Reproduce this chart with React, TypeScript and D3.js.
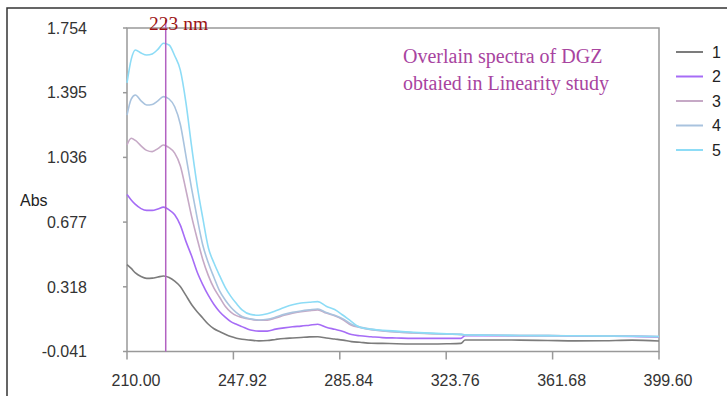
import React, { useEffect, useRef } from "react";
import * as d3 from "d3";

const wavelengths = [
  210, 211.5, 213, 215, 217, 219, 221, 223, 225, 227, 229, 231, 233, 235, 237, 239, 241, 243, 245, 247,
  249, 251, 254, 257, 260, 263, 266, 269, 272, 275, 278, 281, 284, 287, 290, 293, 297, 301, 306, 312,
  318, 324, 329, 330.5, 336, 342, 350, 360, 370, 380, 390, 399.6,
];

const series1 = [
  0.441, 0.42, 0.395, 0.375, 0.365, 0.366, 0.372, 0.378, 0.37, 0.35, 0.32, 0.27, 0.22, 0.18, 0.145, 0.11, 0.085, 0.07, 0.055, 0.042,
  0.033, 0.027, 0.022, 0.018, 0.02, 0.026, 0.031, 0.034, 0.037, 0.04, 0.041, 0.034, 0.028, 0.022, 0.014, 0.01, 0.005, 0.004, 0.002, 0.001,
  0.001, 0.002, 0.004, 0.023, 0.023, 0.023, 0.022, 0.02, 0.018, 0.019, 0.022, 0.017,
];
const series2 = [
  0.83, 0.8, 0.775, 0.752, 0.742, 0.742, 0.75, 0.76, 0.745, 0.718, 0.66, 0.57, 0.49, 0.4, 0.33, 0.27, 0.22, 0.18, 0.15, 0.125,
  0.11, 0.097, 0.078, 0.072, 0.072, 0.083, 0.09, 0.096, 0.1, 0.105, 0.11, 0.094, 0.082, 0.07, 0.053, 0.046, 0.041, 0.036, 0.034, 0.032,
  0.032, 0.032, 0.032, 0.047, 0.047, 0.047, 0.046, 0.046, 0.045, 0.044, 0.043, 0.04,
];
const series3 = [
  1.105, 1.142, 1.13, 1.1, 1.075, 1.068, 1.085, 1.105, 1.09, 1.06, 0.99, 0.855, 0.71, 0.585, 0.47, 0.38, 0.31, 0.26, 0.21, 0.178,
  0.158, 0.148, 0.138, 0.132, 0.133, 0.145, 0.16, 0.172, 0.18, 0.186, 0.19, 0.172, 0.157, 0.135, 0.105, 0.092, 0.08, 0.073, 0.067, 0.062,
  0.058, 0.055, 0.053, 0.05, 0.049, 0.048, 0.047, 0.047, 0.046, 0.045, 0.044, 0.041,
];
const series4 = [
  1.271, 1.36, 1.382, 1.35, 1.327, 1.33, 1.35, 1.373, 1.36, 1.317, 1.22, 1.045, 0.865, 0.7, 0.55, 0.45, 0.37, 0.295, 0.245, 0.205,
  0.175, 0.153, 0.14, 0.134, 0.138, 0.15, 0.165, 0.176, 0.184, 0.19, 0.195, 0.175, 0.16, 0.14, 0.11, 0.095, 0.083, 0.074, 0.068, 0.063,
  0.059, 0.056, 0.054, 0.051, 0.05, 0.049, 0.048, 0.047, 0.046, 0.045, 0.044, 0.042,
];
const series5 = [
  1.449, 1.58, 1.632, 1.615, 1.604, 1.61, 1.635, 1.669, 1.66, 1.6, 1.52, 1.34, 1.1, 0.88, 0.7, 0.535, 0.45, 0.38, 0.315, 0.265,
  0.225, 0.19, 0.165, 0.16, 0.168, 0.185, 0.203, 0.218, 0.228, 0.232, 0.236, 0.21, 0.192, 0.16, 0.125, 0.093, 0.082, 0.077, 0.072, 0.066,
  0.061, 0.057, 0.054, 0.052, 0.05, 0.049, 0.048, 0.047, 0.046, 0.045, 0.044, 0.042,
];

const seriesNames = ["1", "2", "3", "4", "5"];
const seriesColors = ["#7c7c7c", "#a66cf6", "#c6a9c6", "#a9c3de", "#8ddcf6"];
const yTicks = [-0.041, 0.318, 0.677, 1.036, 1.395, 1.754];
const xTicks = [210.0, 247.92, 285.84, 323.76, 361.68, 399.6];
const markerWavelength = 223.8;

const App = () => {
  const svgRef = useRef<SVGSVGElement>(null);

  useEffect(() => {
    const width = 727;
    const height = 396;
    const left = 127;
    const right = 659;
    const top = 28;
    const bottom = 351.5;

    const svg = d3.select(svgRef.current).attr("width", width).attr("height", height);
    svg.selectAll("*").remove();

    const x = d3.scaleLinear().domain([210, 399.6]).range([left, right]);
    const y = d3.scaleLinear().domain([-0.041, 1.754]).range([bottom, top]);

    // outer frame
    svg
      .append("rect")
      .attr("x", 7)
      .attr("y", 8)
      .attr("width", 760)
      .attr("height", 420)
      .attr("fill", "white")
      .attr("stroke", "#333")
      .attr("stroke-width", 1.5);

    // plot box
    svg
      .append("rect")
      .attr("x", left)
      .attr("y", top)
      .attr("width", right - left)
      .attr("height", bottom - top)
      .attr("fill", "none")
      .attr("stroke", "#999")
      .attr("stroke-width", 1.5);

    const font = "'Liberation Sans', Arial, sans-serif";

    // y axis ticks + labels
    const yg = svg.append("g");
    yTicks.forEach((t) => {
      yg.append("line")
        .attr("x1", left - 4)
        .attr("x2", left)
        .attr("y1", y(t))
        .attr("y2", y(t))
        .attr("stroke", "#999")
        .attr("stroke-width", 1.5);
      yg.append("text")
        .attr("x", 87)
        .attr("y", y(t))
        .attr("dy", "0.36em")
        .attr("text-anchor", "end")
        .attr("font-family", font)
        .attr("font-size", 16)
        .attr("fill", "#333")
        .text(t.toFixed(3));
    });

    // x axis ticks + labels (labels sit a bit right of their ticks)
    const xg = svg.append("g");
    xTicks.forEach((t) => {
      xg.append("line")
        .attr("x1", x(t))
        .attr("x2", x(t))
        .attr("y1", bottom)
        .attr("y2", bottom + 8)
        .attr("stroke", "#999")
        .attr("stroke-width", 1.5);
      xg.append("text")
        .attr("x", x(t) + 9)
        .attr("y", 386)
        .attr("text-anchor", "middle")
        .attr("font-family", font)
        .attr("font-size", 16)
        .attr("fill", "#333")
        .text(t.toFixed(2));
    });

    svg
      .append("text")
      .attr("x", 20)
      .attr("y", 206)
      .attr("font-family", font)
      .attr("font-size", 16)
      .attr("fill", "#222")
      .text("Abs");

    // spectra
    const allSeries = [series1, series2, series3, series4, series5];
    const line = d3
      .line<number>()
      .x((_, i) => x(wavelengths[i]))
      .y((d) => y(d))
      .curve(d3.curveMonotoneX);

    allSeries.forEach((s, i) => {
      svg
        .append("path")
        .datum(s)
        .attr("d", line)
        .attr("fill", "none")
        .attr("stroke", seriesColors[i])
        .attr("stroke-width", 1.6);
    });

    // 223 nm marker
    svg
      .append("line")
      .attr("x1", x(markerWavelength))
      .attr("x2", x(markerWavelength))
      .attr("y1", 20)
      .attr("y2", bottom)
      .attr("stroke", "#b262c2")
      .attr("stroke-width", 1.5);

    svg
      .append("text")
      .attr("x", 149)
      .attr("y", 30)
      .attr("font-family", "'Liberation Serif', 'Times New Roman', serif")
      .attr("font-size", 19.5)
      .attr("fill", "#9c1414")
      .text("223 nm");

    const title = svg
      .append("text")
      .attr("font-family", "'Liberation Serif', 'Times New Roman', serif")
      .attr("font-size", 20)
      .attr("fill", "#a8449f");
    title.append("tspan").attr("x", 403).attr("y", 63).text("Overlain spectra of DGZ");
    title.append("tspan").attr("x", 403).attr("y", 90).text("obtaied in Linearity study");

    // legend
    const legend = svg.append("g");
    seriesNames.forEach((name, i) => {
      const ly = 52 + i * 24.5;
      legend
        .append("line")
        .attr("x1", 676)
        .attr("x2", 703)
        .attr("y1", ly)
        .attr("y2", ly)
        .attr("stroke", seriesColors[i])
        .attr("stroke-width", 2);
      legend
        .append("text")
        .attr("x", 712)
        .attr("y", ly)
        .attr("dy", "0.36em")
        .attr("font-family", font)
        .attr("font-size", 16)
        .attr("fill", "#222")
        .text(name);
    });
  }, []);

  return (
    <svg
      ref={svgRef}
      style={{ position: "absolute", left: 0, top: 0, display: "block" }}
    ></svg>
  );
};

export default App;
